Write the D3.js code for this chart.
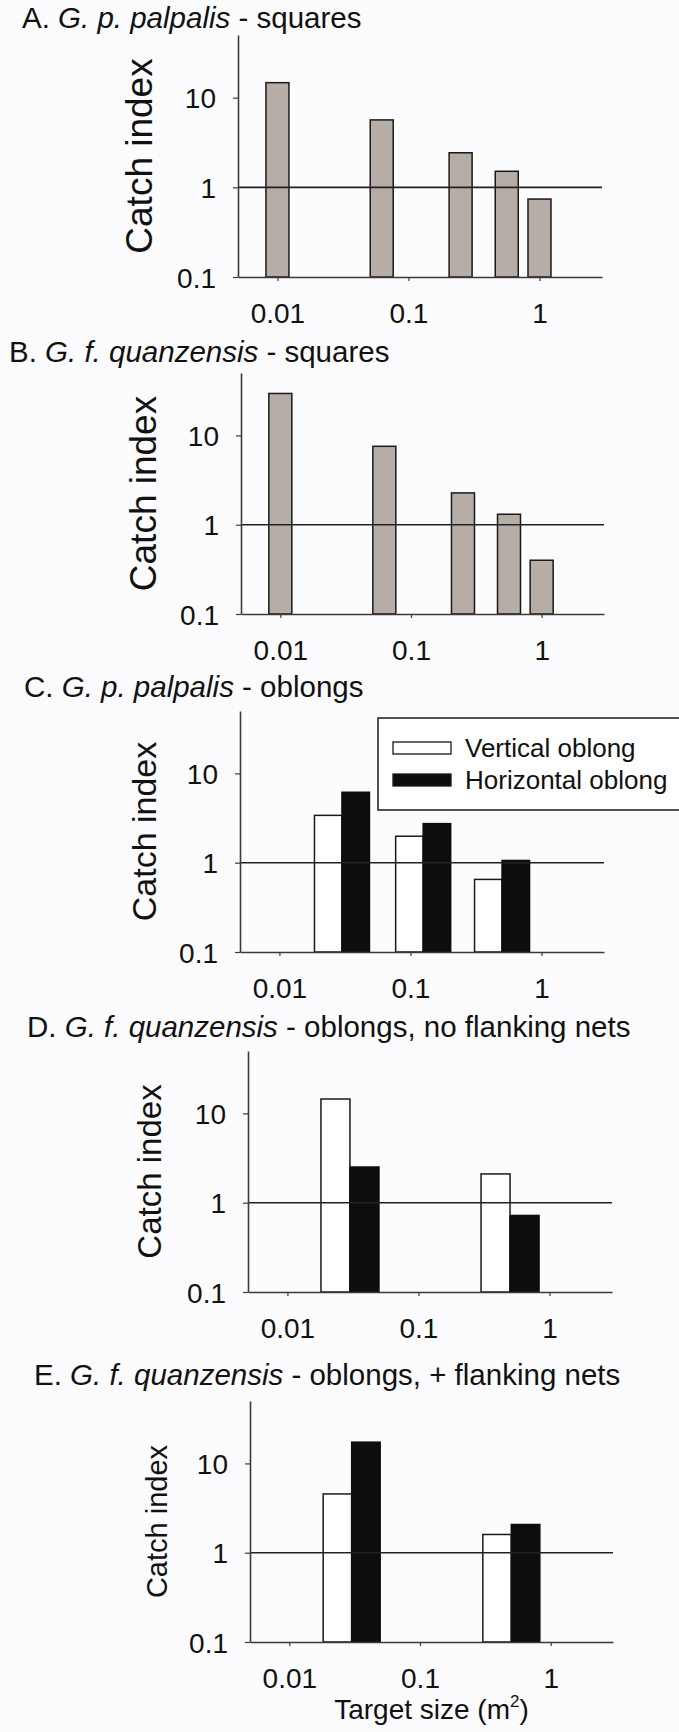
<!DOCTYPE html>
<html>
<head>
<meta charset="utf-8">
<script src="https://cdn.jsdelivr.net/npm/d3@7"></script>
<style>
  body { margin: 0; background: #fcfcfe; }
  svg { display: block; font-family: "Liberation Sans", Arial, sans-serif; }
</style>
</head>
<body>
<div id="chart"></div>
<script>
// values (catch index, log scale)
const squareSizes = [0.01, 0.0625, 0.25, 0.5625, 1];
const palpalisSquares = [14.7, 5.65, 2.43, 1.51, 0.74];
const quanzensisSquares = [29.5, 7.55, 2.27, 1.31, 0.4];

const oblongSizesC = [0.03, 0.125, 0.5];
const palpalisVertical = [3.39, 1.98, 0.65];
const palpalisHorizontal = [6.15, 2.74, 1.06];

const oblongSizesDE = [0.03, 0.5];
const noNetsVertical = [14.5, 2.1];
const noNetsHorizontal = [2.51, 0.72];
const netsVertical = [4.55, 1.6];
const netsHorizontal = [17.3, 2.07];

const yTicks = [0.1, 1, 10];
const xTicks = [0.01, 0.1, 1];
const legendLabels = ["Vertical oblong", "Horizontal oblong"];

const titles = [
  ["A. ", "G. p. palpalis", " - squares"],
  ["B. ", "G. f. quanzensis", " - squares"],
  ["C. ", "G. p. palpalis", " - oblongs"],
  ["D. ", "G. f. quanzensis", " - oblongs, no flanking nets"],
  ["E. ", "G. f. quanzensis", " - oblongs, + flanking nets"],
];

const width = 679;
const height = 1732;

const svg = d3
  .select("#chart")
  .append("svg")
  .attr("width", width)
  .attr("height", height);

svg.append("rect").attr("width", width).attr("height", height).attr("fill", "#fcfcfe");

// layout of each panel
const panels = [
  { left: 238, right: 602, top: 35, bottom: 277, tx: 22, ty: 28, lab: 37, labX: 152, barW: 23,
    kind: "squares", sizes: squareSizes, values: palpalisSquares },
  { left: 241, right: 604, top: 373, bottom: 614, tx: 9, ty: 362, lab: 37, labX: 156, barW: 23,
    kind: "squares", sizes: squareSizes, values: quanzensisSquares },
  { left: 240, right: 604, top: 711, bottom: 952, tx: 24, ty: 697, lab: 34, labX: 156, barW: 27.5,
    kind: "oblongs", sizes: oblongSizesC, vert: palpalisVertical, horiz: palpalisHorizontal, legend: true },
  { left: 248, right: 612, top: 1051, bottom: 1292, tx: 27, ty: 1037, lab: 33, labX: 161, barW: 29,
    kind: "oblongs", sizes: oblongSizesDE, vert: noNetsVertical, horiz: noNetsHorizontal },
  { left: 250, right: 613, top: 1401, bottom: 1642, tx: 34, ty: 1385, lab: 29, labX: 167, barW: 28.5,
    kind: "oblongs", sizes: oblongSizesDE, vert: netsVertical, horiz: netsHorizontal, xTitle: true },
];

panels.forEach((p, i) => {
  const g = svg.append("g");

  const x = d3.scaleLog().domain([0.005, 3]).range([p.left, p.right]);
  const y = d3.scaleLog().domain([0.1, 50]).range([p.bottom, p.top]);

  // title
  const t = g
    .append("text")
    .attr("x", p.tx)
    .attr("y", p.ty)
    .attr("font-size", 29.5)
    .attr("fill", "#111");
  t.append("tspan").text(titles[i][0]);
  t.append("tspan").attr("font-style", "italic").text(titles[i][1]);
  t.append("tspan").text(titles[i][2]);

  // bars
  if (p.kind === "squares") {
    g.selectAll(".bar")
      .data(p.sizes.map((s, k) => ({ s, v: p.values[k] })))
      .join("rect")
      .attr("x", (d) => x(d.s) - p.barW / 2)
      .attr("width", p.barW)
      .attr("y", (d) => y(d.v))
      .attr("height", (d) => y(0.1) - y(d.v))
      .attr("fill", "#b5ada6")
      .attr("stroke", "#1a1a1a")
      .attr("stroke-width", 1.5);
  } else {
    g.selectAll(".vbar")
      .data(p.sizes.map((s, k) => ({ s, v: p.vert[k] })))
      .join("rect")
      .attr("x", (d) => x(d.s) - p.barW)
      .attr("width", p.barW)
      .attr("y", (d) => y(d.v))
      .attr("height", (d) => y(0.1) - y(d.v))
      .attr("fill", "#ffffff")
      .attr("stroke", "#1a1a1a")
      .attr("stroke-width", 1.5);
    g.selectAll(".hbar")
      .data(p.sizes.map((s, k) => ({ s, v: p.horiz[k] })))
      .join("rect")
      .attr("x", (d) => x(d.s))
      .attr("width", p.barW)
      .attr("y", (d) => y(d.v))
      .attr("height", (d) => y(0.1) - y(d.v))
      .attr("fill", "#0d0d0d")
      .attr("stroke", "#0d0d0d")
      .attr("stroke-width", 1.5);
  }

  // reference line at 1
  g.append("line")
    .attr("x1", p.left)
    .attr("x2", p.right)
    .attr("y1", y(1))
    .attr("y2", y(1))
    .attr("stroke", "#222")
    .attr("stroke-width", 1.6);

  // axes
  const yAxis = g
    .append("g")
    .attr("transform", `translate(${p.left},0)`)
    .call(
      d3.axisLeft(y).tickValues(yTicks).tickFormat(d3.format("~g")).tickSizeInner(5).tickSizeOuter(0).tickPadding(17)
    );
  const xAxis = g
    .append("g")
    .attr("transform", `translate(0,${p.bottom})`)
    .call(
      d3.axisBottom(x).tickValues(xTicks).tickFormat(d3.format("~g")).tickSizeInner(4).tickSizeOuter(0).tickPadding(0)
    );

  [yAxis, xAxis].forEach((a) => {
    a.select(".domain").attr("stroke", "#3a3a3a").attr("stroke-width", 1.6);
    a.selectAll(".tick line").attr("stroke", "#3a3a3a").attr("stroke-width", 1.2);
    a.selectAll("text")
      .attr("font-size", 28)
      .attr("fill", "#111")
      .attr("font-family", "\"Liberation Sans\", Arial, sans-serif");
  });
  yAxis.selectAll("text").attr("dy", "0.36em");
  xAxis.selectAll("text").attr("y", 46).attr("dy", 0);

  // y title
  g.append("text")
    .attr("transform", `translate(${p.labX},${(p.top + p.bottom) / 2}) rotate(-90)`)
    .attr("text-anchor", "middle")
    .attr("font-size", p.lab)
    .attr("fill", "#111")
    .text("Catch index");

  // legend
  if (p.legend) {
    const lg = g.append("g");
    lg.append("rect")
      .attr("x", 378)
      .attr("y", 718)
      .attr("width", 320)
      .attr("height", 92)
      .attr("fill", "#ffffff")
      .attr("stroke", "#1a1a1a")
      .attr("stroke-width", 1.5);
    legendLabels.forEach((l, k) => {
      lg.append("rect")
        .attr("x", 393)
        .attr("y", 742 + k * 32)
        .attr("width", 58)
        .attr("height", 12)
        .attr("fill", k === 0 ? "#ffffff" : "#0d0d0d")
        .attr("stroke", "#1a1a1a")
        .attr("stroke-width", 1.3);
      lg.append("text")
        .attr("x", 465)
        .attr("y", 757 + k * 32)
        .attr("font-size", 26)
        .attr("fill", "#111")
        .text(l);
    });
  }

  // x title
  if (p.xTitle) {
    const xt = g
      .append("text")
      .attr("x", (p.left + p.right) / 2)
      .attr("y", 1719)
      .attr("text-anchor", "middle")
      .attr("font-size", 28)
      .attr("fill", "#111");
    xt.append("tspan").text("Target size (m");
    xt.append("tspan").attr("font-size", 17).attr("dy", -12).text("2");
    xt.append("tspan").attr("dy", 12).text(")");
  }
});
</script>
</body>
</html>
